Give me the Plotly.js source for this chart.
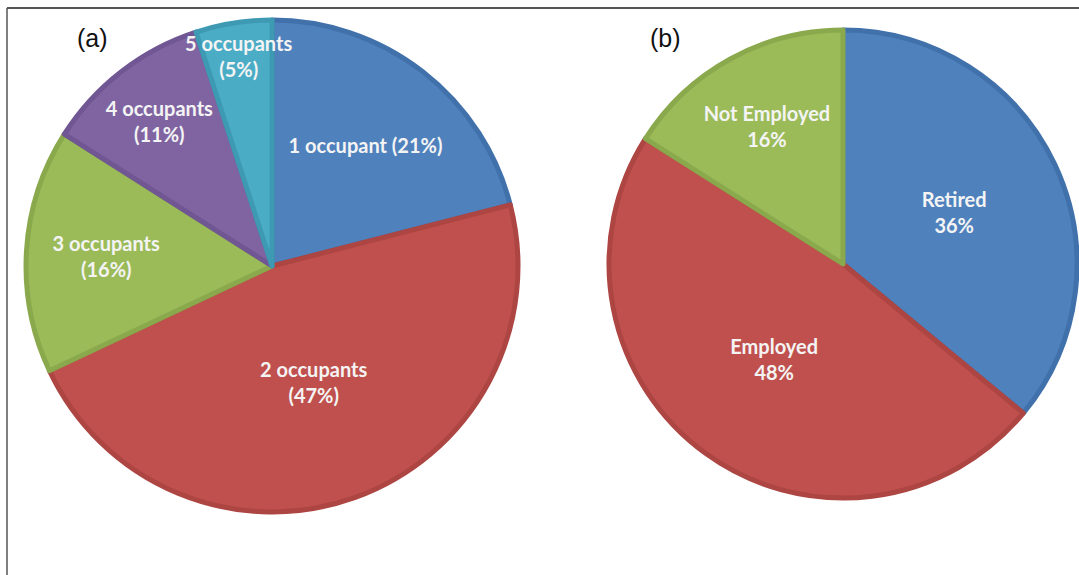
<!DOCTYPE html>
<html>
<head>
<meta charset="utf-8">
<script src="https://cdn.plot.ly/plotly-3.0.1.min.js"></script>
<style>html,body{margin:0;padding:0;background:#fff;}#chart{width:1079px;height:575px;}</style>
</head>
<body>
<div id="chart"></div>
<script>
// Panel (a): household occupants
const occLabels = ["1 occupant", "2 occupants", "3 occupants", "4 occupants", "5 occupants"];
const occValues = [21, 47, 16, 11, 5];
const occText = ["1 occupant (21%)", "2 occupants<br>(47%)", "3 occupants<br>(16%)", "4 occupants<br>(11%)", "5 occupants<br>(5%)"];
const occColors = ["#4F81BD", "#C0504D", "#9BBB59", "#8064A2", "#4BACC6"];
const occLine = ["#4171AA", "#AD4542", "#89A94C", "#705692", "#3E9AB3"];

// Panel (b): employment status
const empLabels = ["Retired", "Employed", "Not Employed"];
const empValues = [36, 48, 16];
const empText = ["Retired<br>36%", "Employed<br>48%", "Not Employed<br>16%"];
const empColors = ["#4F81BD", "#C0504D", "#9BBB59"];
const empLine = ["#4171AA", "#AD4542", "#89A94C"];

const textFont = {family: "Lato, 'Open Sans', sans-serif", size: 20, color: "#f4f4f4", weight: 700};

const traces = [
  {
    type: "pie", labels: occLabels, values: occValues, text: occText,
    textinfo: "text", textposition: "inside", insidetextorientation: "horizontal",
    sort: false, direction: "clockwise", rotation: 0,
    marker: {colors: occColors, line: {color: occLine, width: 5}},
    textfont: textFont, hoverinfo: "label+percent",
    domain: {x: [0.0241, 0.4801], y: [0.1096, 0.9652]}
  },
  {
    type: "pie", labels: empLabels, values: empValues, text: empText,
    textinfo: "text", textposition: "inside", insidetextorientation: "horizontal",
    sort: false, direction: "clockwise", rotation: 0,
    marker: {colors: empColors, line: {color: empLine, width: 5}},
    textfont: textFont, hoverinfo: "label+percent",
    domain: {x: [0.5635, 0.9991], y: [0.1339, 0.9478]}
  }
];

const layout = {
  width: 1079, height: 575,
  margin: {l: 0, r: 0, t: 0, b: 0},
  paper_bgcolor: "#ffffff",
  showlegend: false,
  uniformtext: {mode: "show", minsize: 20},
  annotations: [
    {text: "(a)", x: 92, y: 38, xref: "paper", yref: "paper", showarrow: false,
     xanchor: "center", yanchor: "middle",
     font: {family: "Liberation Sans, Arial, sans-serif", size: 25, color: "#111"}},
    {text: "(b)", x: 665, y: 38, xref: "paper", yref: "paper", showarrow: false,
     xanchor: "center", yanchor: "middle",
     font: {family: "Liberation Sans, Arial, sans-serif", size: 25, color: "#111"}}
  ],
  shapes: [
    {type: "line", xref: "paper", yref: "paper", x0: 7/1079, x1: 1, y0: 1 - 8/575, y1: 1 - 8/575,
     line: {color: "#555555", width: 2}},
    {type: "line", xref: "paper", yref: "paper", x0: 7/1079, x1: 7/1079, y0: 0, y1: 1 - 8/575,
     line: {color: "#555555", width: 1.5}}
  ]
};
// convert annotation pixel positions to paper fractions
layout.annotations.forEach(a => { a.x = a.x / 1079; a.y = 1 - a.y / 575; });

Plotly.newPlot("chart", traces, layout, {displayModeBar: false, staticPlot: true});
</script>
</body>
</html>
